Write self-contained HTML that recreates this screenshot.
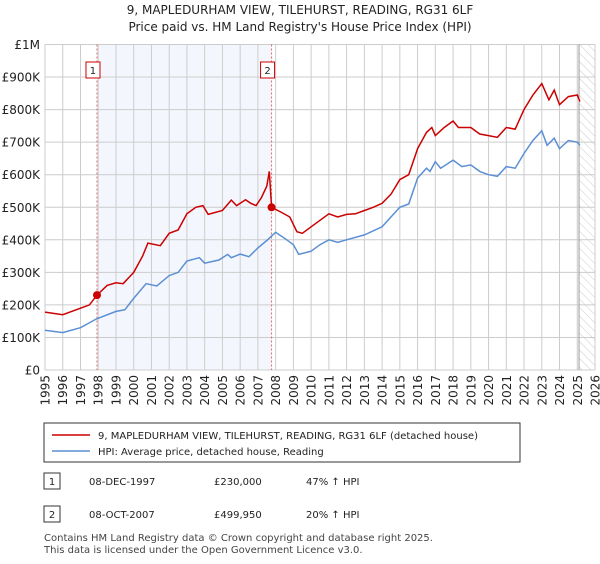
<!DOCTYPE html>
<html><head><meta charset="utf-8"><style>
body{margin:0;background:#fff;font-family:"DejaVu Sans","Liberation Sans",sans-serif;}
svg text{font-family:"DejaVu Sans","Liberation Sans",sans-serif;}
</style></head><body>
<svg width="600" height="560" xmlns="http://www.w3.org/2000/svg">
<defs><pattern id="hatch" width="6" height="6" patternUnits="userSpaceOnUse" patternTransform="rotate(-45)"><line x1="0" y1="0" x2="0" y2="6" stroke="#ccc" stroke-width="1"/></pattern></defs>
<text x="300" y="14" text-anchor="middle" font-size="12" fill="#222">9, MAPLEDURHAM VIEW, TILEHURST, READING, RG31 6LF</text>
<text x="300" y="31" text-anchor="middle" font-size="12" fill="#222">Price paid vs. HM Land Registry's House Price Index (HPI)</text>
<g id="plot"></g>
<rect x="44" y="423" width="476" height="39" fill="#fff" stroke="#333"/>
<line x1="52" y1="435" x2="90" y2="435" stroke="#cc0000" stroke-width="1.5"/>
<text x="98" y="439" font-size="10" fill="#222">9, MAPLEDURHAM VIEW, TILEHURST, READING, RG31 6LF (detached house)</text>
<line x1="52" y1="451" x2="90" y2="451" stroke="#5b8fd4" stroke-width="1.5"/>
<text x="98" y="455" font-size="10" fill="#222">HPI: Average price, detached house, Reading</text>
<rect x="44" y="473" width="16" height="16" fill="#fff" stroke="#333"/>
<text x="52" y="485" font-size="10" text-anchor="middle" fill="#222">1</text>
<text x="89" y="485" font-size="10" fill="#222">08-DEC-1997</text>
<text x="214" y="485" font-size="10" fill="#222">£230,000</text>
<text x="306" y="485" font-size="10" fill="#222">47% ↑ HPI</text>
<rect x="44" y="506" width="16" height="16" fill="#fff" stroke="#333"/>
<text x="52" y="518" font-size="10" text-anchor="middle" fill="#222">2</text>
<text x="89" y="518" font-size="10" fill="#222">08-OCT-2007</text>
<text x="214" y="518" font-size="10" fill="#222">£499,950</text>
<text x="306" y="518" font-size="10" fill="#222">20% ↑ HPI</text>
<text x="44" y="541" font-size="10" fill="#444">Contains HM Land Registry data © Crown copyright and database right 2025.</text>
<text x="44" y="553" font-size="10" fill="#444">This data is licensed under the Open Government Licence v3.0.</text>
</svg>
<script>
const yTicks=[0,100000,200000,300000,400000,500000,600000,700000,800000,900000,1000000];
const yTickLabels=["£0","£100K","£200K","£300K","£400K","£500K","£600K","£700K","£800K","£900K","£1M"];
const years=[1995,1996,1997,1998,1999,2000,2001,2002,2003,2004,2005,2006,2007,2008,2009,2010,2011,2012,2013,2014,2015,2016,2017,2018,2019,2020,2021,2022,2023,2024,2025,2026];
const hpiT=[1995,1996,1997,1997.9,1999,1999.5,2000,2000.7,2001.3,2002,2002.5,2003,2003.7,2004,2004.8,2005.3,2005.5,2006,2006.5,2007,2007.5,2008,2008.5,2009,2009.3,2010,2010.5,2011,2011.5,2012,2013,2014,2015,2015.5,2016,2016.5,2016.7,2017,2017.3,2018,2018.5,2019,2019.5,2020,2020.5,2021,2021.5,2022,2022.5,2023,2023.3,2023.7,2024,2024.5,2025,2025.15];
const hpiV=[122000,115000,130000,157000,180000,185000,220000,265000,258000,290000,300000,335000,345000,328000,338000,355000,345000,356000,348000,375000,398000,423000,405000,385000,355000,365000,385000,400000,392000,400000,415000,440000,500000,510000,590000,620000,610000,640000,620000,645000,625000,630000,610000,600000,595000,625000,620000,665000,705000,735000,690000,712000,680000,705000,700000,690000];
const priceT=[1995,1996,1997,1997.5,1997.93,1998.5,1999,1999.4,2000,2000.5,2000.8,2001.5,2002,2002.5,2003,2003.5,2003.9,2004.2,2005,2005.5,2005.8,2006.3,2006.6,2006.9,2007.2,2007.5,2007.64,2007.77,2008.3,2008.8,2009.2,2009.5,2010,2010.5,2011,2011.5,2012,2012.5,2013,2013.5,2014,2014.5,2015,2015.5,2016,2016.5,2016.8,2017,2017.5,2018,2018.3,2019,2019.5,2020,2020.5,2021,2021.5,2022,2022.5,2023,2023.4,2023.7,2024,2024.5,2025,2025.15];
const priceV=[178000,170000,190000,200000,230000,260000,268000,265000,300000,350000,390000,382000,420000,430000,480000,500000,505000,478000,490000,522000,505000,523000,512000,505000,530000,565000,610000,500000,485000,470000,425000,420000,440000,460000,480000,470000,478000,480000,490000,500000,512000,540000,585000,600000,680000,730000,745000,720000,745000,765000,745000,745000,725000,720000,715000,745000,740000,800000,845000,880000,830000,860000,815000,840000,845000,825000];
const salesT=[1997.93,2007.77];
const salesV=[230000,499950];
const salesLbl=["1","2"];
const X0=45,X1=595,Y0=370,Y1=44.5;
const xs=t=>X0+(t-1995)/(2026-1995)*(X1-X0);
const ys=v=>Y0-v/1000000*(Y0-Y1);
const NS="http://www.w3.org/2000/svg";
const g=document.getElementById('plot');
function mk(tag,at,par){const e=document.createElementNS(NS,tag);for(const k in at)e.setAttribute(k,at[k]);(par||g).appendChild(e);return e;}
let e;
e=mk('rect',{x:xs(salesT[0]),y:Y1,width:xs(salesT[1])-xs(salesT[0]),height:Y0-Y1,fill:'#eef3fc',opacity:0.7});


e=mk('rect',{x:xs(2025.1),y:Y1,width:X1-xs(2025.1),height:Y0-Y1,fill:'url(#hatch)'});


years.forEach(y=>{
 e=mk('line',{x1:xs(y),x2:xs(y),y1:Y1,y2:Y0,stroke:'#ccc','stroke-width':1});
 
 
 e=mk('text',{x:0,y:0,'font-size':12,fill:'#222','text-anchor':'end',transform:`translate(${xs(y)+4.5},${Y0+5}) rotate(-90)`});
 e.textContent=y;
 
 
});
yTicks.forEach((v,i)=>{
 e=mk('line',{x1:X0,x2:X1,y1:ys(v),y2:ys(v),stroke:'#ccc','stroke-width':1});
 
 
 e=mk('text',{x:X0-5,y:ys(v)+4.5,'font-size':12,fill:'#222','text-anchor':'end'});
 e.textContent=yTickLabels[i];
 
 
});
e=mk('line',{x1:xs(2025.1),x2:xs(2025.1),y1:Y1,y2:Y0,stroke:'#999','stroke-width':1});


salesT.forEach((t,i)=>{
 e=mk('line',{x1:xs(t),x2:xs(t),y1:Y1,y2:Y0,stroke:'#e06666','stroke-width':1,'stroke-dasharray':'2,2'});
 
 
 e=mk('rect',{x:xs(t)-11,y:62,width:14,height:16,fill:'#fff',stroke:'#cc0000'});
 
 
 e=mk('text',{x:xs(t)-4,y:74,'font-size':10,fill:'#222','text-anchor':'middle'});
 e.textContent=salesLbl[i];
 
 
});
e=mk('path',{d:hpiT.map((t,i)=>(i?'L':'M')+xs(t).toFixed(1)+','+ys(hpiV[i]).toFixed(1)).join(''),fill:'none',stroke:'#5b8fd4','stroke-width':1.5});


e=mk('path',{d:priceT.map((t,i)=>(i?'L':'M')+xs(t).toFixed(1)+','+ys(priceV[i]).toFixed(1)).join(''),fill:'none',stroke:'#cc0000','stroke-width':1.5});


salesT.forEach((t,i)=>{
 e=mk('circle',{cx:xs(t),cy:ys(salesV[i]),r:4,fill:'#cc0000'});
 
 
});
</script>
</body></html>
